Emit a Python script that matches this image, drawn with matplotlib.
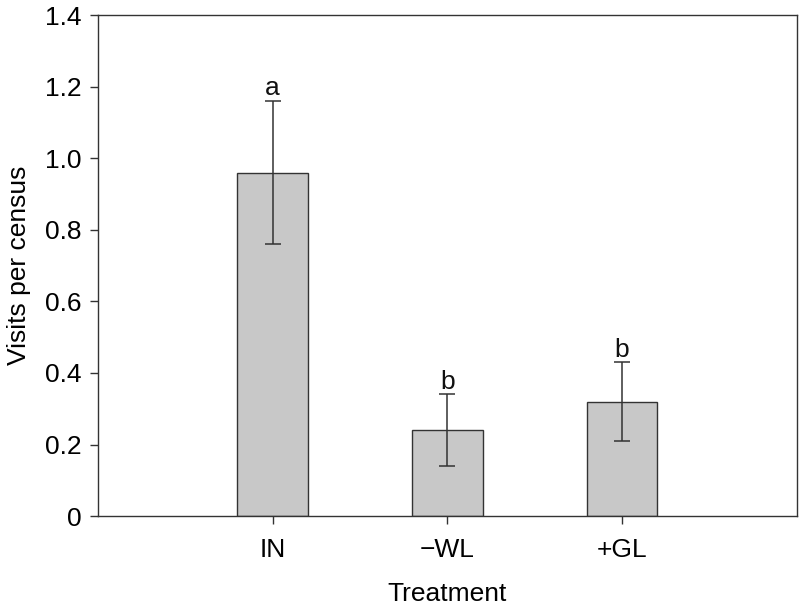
import matplotlib
matplotlib.use("Agg")
import matplotlib.pyplot as plt

categories = ["IN", "\u2212WL", "+GL"]
means = [0.96, 0.24, 0.32]
errors = [0.20, 0.10, 0.11]
letters = ["a", "b", "b"]
yticks = [0, 0.2, 0.4, 0.6, 0.8, 1.0, 1.2, 1.4]

plt.rcParams['font.family'] = ['Liberation Sans', 'DejaVu Sans']

fig = plt.figure(figsize=(8, 6.1), dpi=100)
ax = fig.add_axes([0.1225, 0.154, 0.8735, 0.821])

x = [1, 2, 3]
ax.bar(x, means, width=0.405, color="#c8c8c8", edgecolor="#333333", linewidth=1.0,
       yerr=errors, error_kw=dict(ecolor="#333333", elinewidth=1.1, capsize=5.5, capthick=1.1))

for xi, m, e, l in zip(x, means, errors, letters):
    ax.annotate(l, (xi, m + e), xytext=(0, 0.5), textcoords="offset points",
                ha="center", va="bottom", fontsize=19, color="#111111")

ax.set_xlim(0, 4)
ax.set_ylim(0, 1.4)
ax.set_xticks(x)
ax.set_xticklabels(categories)
ax.set_yticks(yticks)
ax.set_yticklabels(["0", "0.2", "0.4", "0.6", "0.8", "1.0", "1.2", "1.4"])
ax.tick_params(direction="out", length=6, width=1, labelsize=19, color="#333333", pad=6)
ax.tick_params(axis="x", pad=10)
for s in ax.spines.values():
    s.set_linewidth(1.0)
    s.set_color("#333333")

ax.set_xlabel("Treatment", fontsize=19, labelpad=14)
ax.set_ylabel("Visits per census", fontsize=19, labelpad=10)

fig.savefig("out.png", dpi=100)
